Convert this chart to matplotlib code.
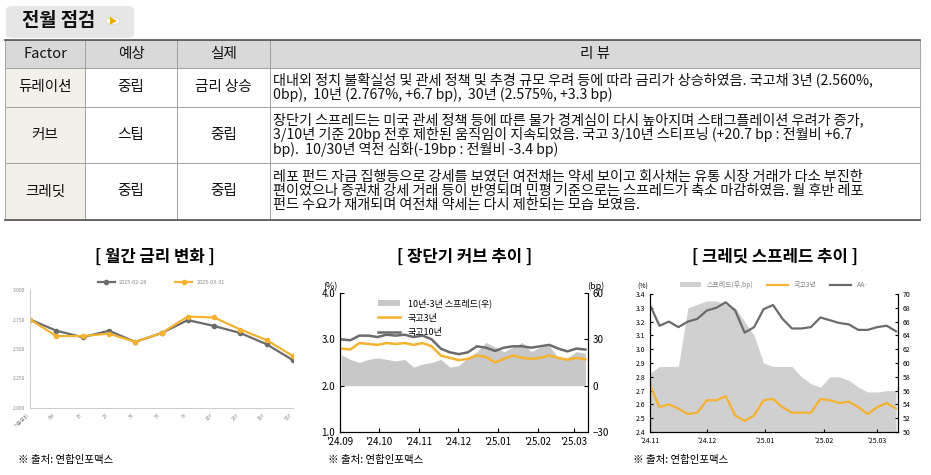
import matplotlib
matplotlib.use("Agg")
import matplotlib.pyplot as plt
import matplotlib.dates as mdates
from matplotlib import font_manager
from matplotlib.patches import Rectangle, FancyBboxPatch
import pandas as pd

names = sorted({f.name for f in font_manager.fontManager.ttflist})
cjk = [n for n in names if "CJK" in n and "KR" in n] + [n for n in names if "CJK" in n]
plt.rcParams["font.family"] = (cjk[:1] or ["DejaVu Sans"]) + ["DejaVu Sans"]

# ---------- data ----------
headers = ["Factor", "예상", "실제", "리 뷰"]
rows = [
    ["듀레이션", "중립", "금리 상승",
     "대내외 정치 불확실성 및 관세 정책 및 추경 규모 우려 등에 따라 금리가 상승하였음. 국고채 3년 (2.560%,\n0bp),  10년 (2.767%, +6.7 bp),  30년 (2.575%, +3.3 bp)"],
    ["커브", "스팁", "중립",
     "장단기 스프레드는 미국 관세 정책 등에 따른 물가 경계심이 다시 높아지며 스태그플레이션 우려가 증가,\n3/10년 기준 20bp 전후 제한된 움직임이 지속되었음. 국고 3/10년 스티프닝 (+20.7 bp : 전월비 +6.7\nbp).  10/30년 역전 심화(-19bp : 전월비 -3.4 bp)"],
    ["크레딧", "중립", "중립",
     "레포 펀드 자금 집행등으로 강세를 보였던 여전채는 약세 보이고 회사채는 유통 시장 거래가 다소 부진한\n편이었으나 증권채 강세 거래 등이 반영되며 민평 기준으로는 스프레드가 축소 마감하였음. 월 후반 레포\n펀드 수요가 재개되며 여전채 약세는 다시 제한되는 모습 보였음."],
]

tenors = ["기준금리", "6M", "1Y", "2Y", "3Y", "5Y", "7Y", "10Y", "20Y", "30Y", "50Y"]
rate_0228 = [2.750, 2.655, 2.600, 2.655, 2.560, 2.635, 2.745, 2.695, 2.635, 2.540, 2.405]
rate_0331 = [2.750, 2.610, 2.610, 2.630, 2.560, 2.635, 2.775, 2.767, 2.665, 2.575, 2.440]

curve_dates = pd.date_range("2024-09-02", "2025-03-10", freq="W-MON")
ktb3 = [2.80, 2.78, 2.92, 2.90, 2.88, 2.92, 2.90, 2.92, 2.88, 2.92, 2.85, 2.65, 2.60, 2.55,
        2.58, 2.65, 2.62, 2.50, 2.58, 2.65, 2.60, 2.58, 2.60, 2.65, 2.60, 2.56, 2.60, 2.57]
ktb10 = [3.00, 2.98, 3.08, 3.08, 3.05, 3.10, 3.08, 3.10, 3.05, 3.08, 3.00, 2.80, 2.72, 2.68,
         2.72, 2.85, 2.82, 2.75, 2.82, 2.85, 2.85, 2.82, 2.85, 2.88, 2.80, 2.74, 2.80, 2.78]
spread_10_3 = [20, 17, 15, 17, 18, 17, 16, 17, 12, 14, 15, 17, 12, 13,
               18, 22, 28, 25, 22, 25, 28, 22, 25, 26, 18, 18, 22, 21]

credit_dates = pd.date_range("2024-11-01", "2025-03-11", freq="5D")
aa = [3.32, 3.17, 3.20, 3.16, 3.20, 3.22, 3.28, 3.30, 3.34, 3.28, 3.12, 3.16, 3.29, 3.32,
      3.22, 3.15, 3.15, 3.16, 3.23, 3.21, 3.19, 3.18, 3.14, 3.14, 3.16, 3.17, 3.13]
ktb3_c = [2.74, 2.58, 2.60, 2.57, 2.53, 2.54, 2.63, 2.63, 2.66, 2.52, 2.48, 2.52, 2.63, 2.64,
          2.58, 2.54, 2.54, 2.54, 2.64, 2.63, 2.61, 2.62, 2.58, 2.53, 2.58, 2.61, 2.57]
credit_spread = [58.5, 59.5, 59.5, 59.5, 68, 68.5, 69, 69, 68.5, 68, 66, 64, 60, 59.5,
                 59.5, 59.5, 58, 57, 56.5, 58, 58, 57.5, 56.5, 55.8, 55.8, 56, 56]

# ---------- figure ----------
W, H = 931, 475
fig = plt.figure(figsize=(W / 100, H / 100), dpi=100)
fig.patch.set_facecolor("white")

def fx(x): return x / W
def fy(y): return 1 - y / H

# tab
fig.patches.append(FancyBboxPatch((fx(6), fy(38)), fx(128), fy(6) - fy(38),
                                  boxstyle="round,pad=0,rounding_size=0.008",
                                  transform=fig.transFigure, fc="#e6e6e6", ec="none"))
fig.text(fx(22), fy(21), "전월 점검", fontsize=13.5, fontweight="bold", va="center", color="#111")
fig.patches.append(plt.Circle((fx(113), fy(21)), fx(7), transform=fig.transFigure,
                              fc="white", ec="#dddddd"))
fig.text(fx(113), fy(21), "▶", fontsize=6, color="#f0a500", ha="center", va="center")

cols = [5, 85, 177, 270, 920]
rys = [40, 68, 107, 163, 220]
for r in range(4):
    y0, y1 = rys[r], rys[r + 1]
    for c in range(4):
        x0, x1 = cols[c], cols[c + 1]
        if r == 0:
            fc = "#d9d9d9"
        elif c == 0:
            fc = "#f3f0ea"
        else:
            fc = "white"
        fig.patches.append(Rectangle((fx(x0), fy(y1)), fx(x1 - x0), fy(y0) - fy(y1),
                                     transform=fig.transFigure, fc=fc, ec="#999999", lw=0.6))
        txt = headers[c] if r == 0 else rows[r - 1][c]
        if c == 3 and r > 0:
            fig.text(fx(x0 + 3), fy((y0 + y1) / 2), txt, fontsize=10.2, va="center", ha="left",
                     linespacing=1.0, color="#111")
        else:
            fig.text(fx((x0 + x1) / 2), fy((y0 + y1) / 2), txt, fontsize=10.5, va="center",
                     ha="center", color="#111")
fig.add_artist(plt.Line2D([fx(5), fx(920)], [fy(40), fy(40)], transform=fig.transFigure,
                          color="#555", lw=1.2))
fig.add_artist(plt.Line2D([fx(5), fx(920)], [fy(220), fy(220)], transform=fig.transFigure,
                          color="#555", lw=1.2))

# titles and sources
for x, t in [(155, "[ 월간 금리 변화 ]"), (465, "[ 장단기 커브 추이 ]"), (775, "[ 크레딧 스프레드 추이 ]")]:
    fig.text(fx(x), fy(257), t, fontsize=12, fontweight="bold", ha="center", va="center")
for x in [18, 328, 633]:
    fig.text(fx(x), fy(460), "※ 출처: 연합인포맥스", fontsize=7.5, va="center")

gray = "#6b6b6b"
orange = "#f5b130"

# chart 1
ax1 = fig.add_axes([fx(30), fy(408), fx(263), fy(290) - fy(408)])
ax1.plot(range(len(tenors)), rate_0228, color=gray, marker="o", ms=3, lw=1.6, label="2025-02-28")
ax1.plot(range(len(tenors)), rate_0331, color=orange, marker="o", ms=3, lw=1.6, label="2025-03-31")
ax1.set_ylim(2.0, 3.0)
ax1.set_yticks([2.0, 2.25, 2.5, 2.75, 3.0])
ax1.set_yticklabels(["2.000", "2.250", "2.500", "2.750", "3.000"])
ax1.set_xlim(0, len(tenors) - 1)
ax1.set_xticks(range(len(tenors)))
ax1.set_xticklabels(tenors, rotation=45, ha="right")
ax1.tick_params(labelsize=3.5, colors="#888", length=0)
for s in ["top", "right"]:
    ax1.spines[s].set_visible(False)
for s in ["left", "bottom"]:
    ax1.spines[s].set_color("#cccccc")
ax1.legend(loc="lower center", bbox_to_anchor=(0.5, 1.0), ncol=2, frameon=False, fontsize=4,
           labelcolor="#888", handlelength=3, columnspacing=5)

# chart 2
ax2 = fig.add_axes([fx(340), fy(432), fx(248), fy(293) - fy(432)])
ax2b = ax2.twinx()
ax2b.fill_between(curve_dates, 0, spread_10_3, color="#c8c8c8", lw=0, label="10년-3년 스프레드(우)")
ax2b.set_ylim(-30, 60)
ax2b.set_yticks([-30, 0, 30, 60])
ax2.set_zorder(ax2b.get_zorder() + 1)
ax2.patch.set_visible(False)
ax2.plot(curve_dates, ktb3, color=orange, lw=1.8, label="국고3년")
ax2.plot(curve_dates, ktb10, color=gray, lw=1.8, label="국고10년")
ax2.set_ylim(1.0, 4.0)
ax2.set_yticks([1.0, 2.0, 3.0, 4.0])
ax2.set_yticklabels(["1.0", "2.0", "3.0", "4.0"])
ax2.set_xlim(pd.Timestamp("2024-09-01"), pd.Timestamp("2025-03-12"))
ax2.xaxis.set_major_locator(mdates.MonthLocator())
ax2.xaxis.set_major_formatter(mdates.DateFormatter("'%y.%m"))
for a in (ax2, ax2b):
    a.tick_params(labelsize=7, direction="in", length=3)
    a.spines["top"].set_visible(False)
ax2.text(-0.04, 1.03, "(%)", transform=ax2.transAxes, fontsize=6.5, ha="center")
ax2.text(1.03, 1.03, "(bp)", transform=ax2.transAxes, fontsize=6.5, ha="center")
h1, l1 = ax2b.get_legend_handles_labels()
h2, l2 = ax2.get_legend_handles_labels()
ax2.legend(h1 + h2, l1 + l2, loc="upper left", bbox_to_anchor=(0.12, 1.02), frameon=False,
           fontsize=6.5, handlelength=2.5, labelspacing=0.6)

# chart 3
ax3 = fig.add_axes([fx(650), fy(432), fx(248), fy(294) - fy(432)])
ax3b = ax3.twinx()
ax3b.fill_between(credit_dates, 50, credit_spread, color="#d0d0d0", lw=0, label="스프레드(우,bp)")
ax3b.set_ylim(50, 70)
ax3b.set_yticks(range(50, 71, 2))
ax3.set_zorder(ax3b.get_zorder() + 1)
ax3.patch.set_visible(False)
ax3.plot(credit_dates, ktb3_c, color=orange, lw=1.6, label="국고3년")
ax3.plot(credit_dates, aa, color=gray, lw=1.6, label="AA-")
ax3.set_ylim(2.4, 3.4)
ax3.set_yticks([2.4 + 0.1 * i for i in range(11)])
ax3.set_yticklabels([f"{2.4 + 0.1 * i:.1f}" for i in range(11)])
ax3.set_xlim(pd.Timestamp("2024-11-01"), pd.Timestamp("2025-03-12"))
ax3.xaxis.set_major_locator(mdates.MonthLocator())
ax3.xaxis.set_major_formatter(mdates.DateFormatter("'%y.%m"))
for a in (ax3, ax3b):
    a.tick_params(labelsize=5, direction="in", length=2)
    a.spines["top"].set_visible(False)
ax3.text(-0.03, 1.04, "(%)", transform=ax3.transAxes, fontsize=5, ha="center")
h1, l1 = ax3b.get_legend_handles_labels()
h2, l2 = ax3.get_legend_handles_labels()
ax3.legend(h1 + h2, l1 + l2, loc="lower center", bbox_to_anchor=(0.5, 0.99), ncol=3,
           frameon=False, fontsize=5, labelcolor="#888", handlelength=3)

fig.savefig("out.png", dpi=100)
